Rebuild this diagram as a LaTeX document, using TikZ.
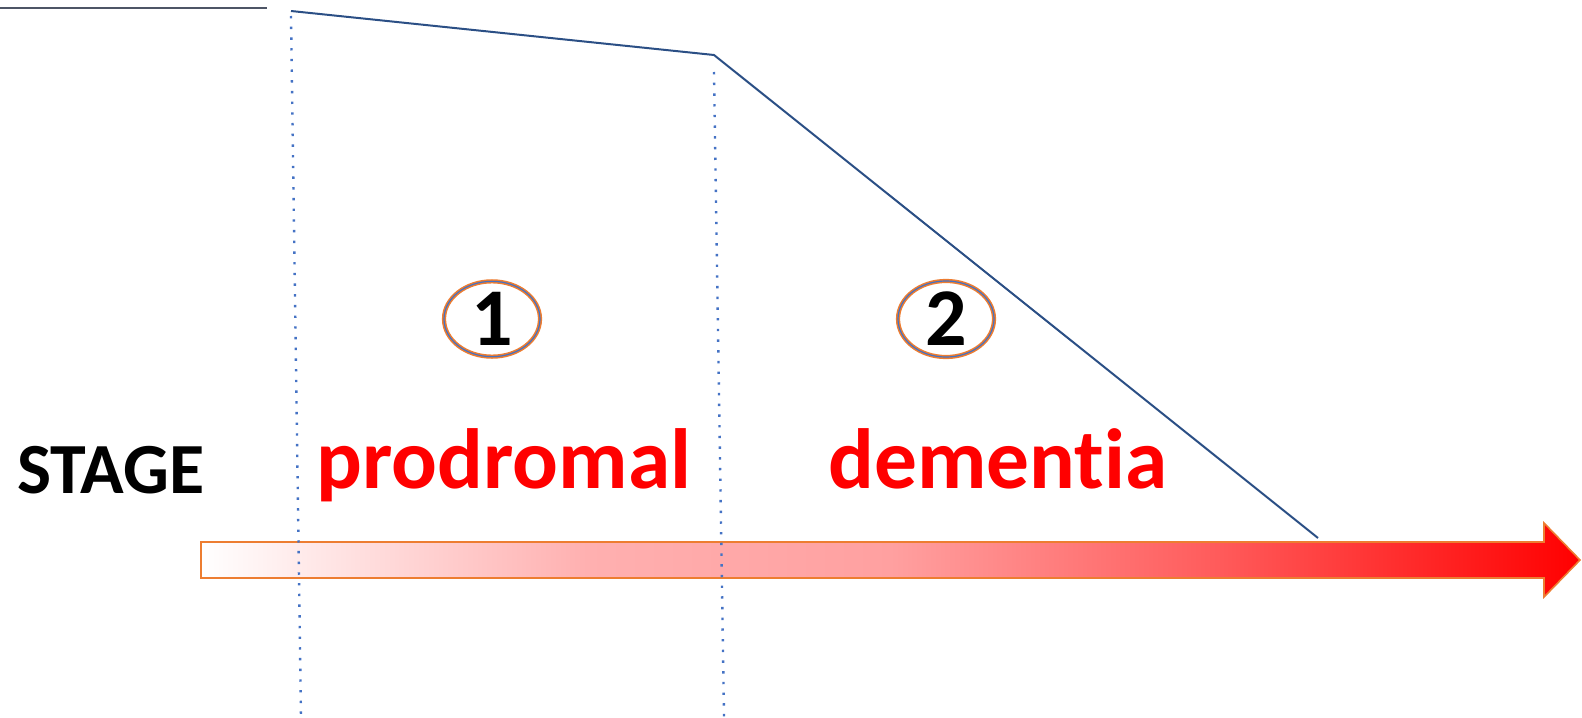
\documentclass[tikz,border=0pt]{standalone}
\usepackage{fontspec}
\setmainfont{Carlito}[Ligatures=NoCommon]
\usepackage{tikz}
\usetikzlibrary{shapes.geometric,positioning}

\definecolor{navyline}{HTML}{2B4F85}
\definecolor{greyline}{HTML}{4D5566}
\definecolor{dotblue}{HTML}{4472C4}
\definecolor{rimorange}{HTML}{ED7D31}
\definecolor{pinkmid}{HTML}{FFA0A0}
\definecolor{pinklow}{HTML}{FFB0B0}
\definecolor{redmid}{HTML}{FF5A5A}
\pgfdeclarehorizontalshading{stagefill}{100bp}{color(0bp)=(white); color(25bp)=(white); color(39bp)=(pinklow); color(50bp)=(pinkmid); color(62bp)=(redmid); color(75bp)=(red); color(100bp)=(red)}

\begin{document}
\begin{tikzpicture}[x=0.5pt, y=-0.5pt,
    curve/.style={draw=navyline, line width=1pt},
    divider/.style={draw=dotblue, line width=1.2pt, dash pattern=on 1.2pt off 4.15pt},
    phase/.style={inner sep=0pt, anchor=base, font=\bfseries\fontsize{42.7}{48}\selectfont, text=red},
    badge/.style={ellipse, draw=rimorange, double=dotblue, double distance=0.6pt, line width=0.75pt, minimum width=48pt, minimum height=37pt, inner sep=0pt, font=\bfseries\fontsize{41}{44}\selectfont}]
    \useasboundingbox (0,0) rectangle (1582,717);

    % time arrow
    \path[shade, shading=stagefill, draw=rimorange, line width=0.8pt]
        (201,542) -- (1544,542) -- (1544,523) -- (1580,560) -- (1544,597) -- (1544,578) -- (201,578) -- cycle;

    % course of decline
    \coordinate (P0) at (0,8);
    \coordinate (P1) at (267,8);
    \coordinate (Q0) at (291,11);
    \coordinate (Q1) at (714,55);
    \coordinate (Q2) at (1318,538);
    \draw[greyline, line width=1pt] (P0) -- (P1);
    \draw[curve] (Q0) -- (Q1) -- (Q2);

    % stage borders
    \coordinate (D1a) at (291,16);
    \coordinate (D1b) at (301,717);
    \coordinate (D2a) at (714,72);
    \coordinate (D2b) at (724,717);
    \draw[divider] (D1a) -- (D1b);
    \draw[divider] (D2a) -- (D2b);

    \node[inner sep=0pt, anchor=base, font=\bfseries\fontsize{36}{40}\selectfont] (S) at (111,493) {STAGE};
    \node[phase] (A) at (504,488) {prodromal};
    \node[phase] (B) at (998,488) {dementia};

    \node[badge] (N1) at (492,319) {1};
    \node[badge] (N2) at (946,319) {2};
\end{tikzpicture}
\end{document}
